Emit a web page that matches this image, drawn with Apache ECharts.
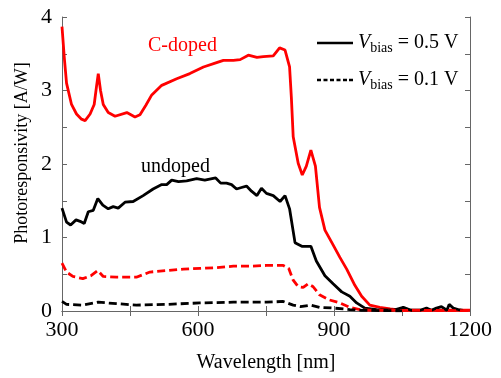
<!DOCTYPE html>
<html><head><meta charset="utf-8">
<script src="https://cdn.jsdelivr.net/npm/echarts@6/dist/echarts.min.js"></script>
<style>html,body{margin:0;padding:0;background:#fff}#c{width:501px;height:378px}</style>
</head><body><div id="c"></div>
<script>
const xTicks = [300, 600, 900, 1200];
const yTicks = [0, 1, 2, 3, 4];
const cDoped05 = [[300,3.87],[305,3.45],[310,3.10],[321,2.81],[332,2.68],[343,2.61],[351,2.59],[362,2.68],[371,2.81],[376,3.05],[380,3.23],[385,3.0],[391,2.81],[402,2.70],[417,2.65],[443,2.70],[461,2.64],[472,2.67],[485,2.80],[498,2.94],[520,3.07],[553,3.16],[582,3.23],[612,3.32],[641,3.38],[656,3.41],[678,3.41],[693,3.42],[711,3.48],[730,3.45],[744,3.46],[766,3.47],[780,3.58],[792,3.55],[802,3.32],[806,2.9],[810,2.37],[821,2.01],[830,1.85],[839,1.97],[849,2.19],[859,1.97],[868,1.41],[880,1.10],[898,0.90],[913,0.73],[928,0.57],[946,0.35],[961,0.20],[979,0.08],[1001,0.05],[1024,0.03],[1050,0.01],[1100,0.01],[1200,0.01]];
const undoped05 = [[300,1.40],[310,1.21],[319,1.17],[331,1.24],[340,1.22],[349,1.19],[358,1.35],[369,1.37],[379,1.53],[390,1.44],[402,1.39],[413,1.42],[424,1.40],[439,1.48],[457,1.49],[479,1.57],[501,1.66],[520,1.72],[531,1.72],[542,1.78],[557,1.76],[575,1.77],[597,1.80],[615,1.78],[639,1.81],[650,1.74],[663,1.74],[674,1.72],[685,1.66],[696,1.68],[707,1.70],[718,1.63],[730,1.57],[740,1.67],[751,1.60],[766,1.57],[781,1.49],[792,1.57],[802,1.39],[814,0.93],[829,0.88],[849,0.88],[861,0.68],[880,0.48],[898,0.37],[917,0.26],[935,0.20],[950,0.11],[968,0.04],[994,0.02],[1030,0.01],[1053,0.05],[1070,0.01],[1090,0.01],[1104,0.04],[1115,0.01],[1126,0.04],[1137,0.06],[1149,0.01],[1154,0.09],[1163,0.04],[1174,0.02],[1185,0.01]];
const cDoped01 = [[300,0.65],[310,0.53],[324,0.47],[346,0.44],[364,0.48],[379,0.55],[391,0.47],[420,0.46],[464,0.46],[494,0.53],[531,0.55],[568,0.57],[604,0.58],[641,0.59],[678,0.61],[715,0.61],[751,0.62],[788,0.62],[800,0.58],[810,0.42],[821,0.33],[832,0.32],[843,0.37],[854,0.33],[868,0.22],[890,0.15],[913,0.11],[935,0.05],[957,0.02],[980,0.01],[1200,0.005]];
const undoped01 = [[300,0.13],[310,0.09],[346,0.08],[380,0.12],[420,0.10],[464,0.08],[531,0.09],[604,0.11],[678,0.12],[751,0.12],[788,0.13],[810,0.08],[826,0.06],[848,0.08],[868,0.05],[898,0.04],[935,0.02],[960,0.01],[1000,0.005],[1050,0.003]];

const FONT = '"Liberation Serif","Times New Roman",serif';
const AX = '#666';
const chart = echarts.init(document.getElementById('c'), null, {renderer: 'canvas'});
function baseX(show) {
  return {type: 'value', min: 300, max: 1200, interval: 150,
    axisLine: {show: true, lineStyle: {color: AX, width: 1}},
    axisTick: {show: true, inside: true, length: 5, lineStyle: {color: AX}},
    splitLine: {show: false},
    axisLabel: {show: show, margin: 8, fontFamily: FONT, fontSize: 22, color: '#000',
      formatter: v => (xTicks.includes(v) ? String(v) : '')}};
}
function baseY(show) {
  return {type: 'value', min: 0, max: 4, interval: 0.5,
    axisLine: {show: true, lineStyle: {color: AX, width: 1}},
    axisTick: {show: true, inside: true, length: 5, lineStyle: {color: AX}},
    splitLine: {show: false},
    axisLabel: {show: show, margin: 10, fontFamily: FONT, fontSize: 22, color: '#000',
      formatter: v => (yTicks.includes(v) ? String(v) : '')}};
}
const xa = [Object.assign(baseX(true), {position: 'bottom', name: 'Wavelength [nm]', nameLocation: 'middle', nameGap: 42,
  nameTextStyle: {fontFamily: FONT, fontSize: 20, color: '#000'}}), Object.assign(baseX(false), {position: 'top'})];
const ya = [Object.assign(baseY(true), {position: 'left'}), Object.assign(baseY(false), {position: 'right'})];
const rich = {
  v: {fontFamily: FONT, fontSize: 20, fontStyle: 'italic', color: '#000'},
  s: {fontFamily: FONT, fontSize: 14, color: '#000', padding: [10, 0, 0, 0]},
  n: {fontFamily: FONT, fontSize: 20, color: '#000'}
};
const solidIcon = 'path://M0,0H36V2.6H0Z';
const dashIcon = 'path://M0,0H4V2.6H0Z M6.5,0H10.5V2.6H6.5Z M13,0H17V2.6H13Z M19.5,0H23.5V2.6H19.5Z M26,0H30V2.6H26Z M32,0H36V2.6H32Z';
function line(name, data, color, dashed) {
  return {type: 'line', name: name, data: data, showSymbol: false, symbol: 'none', smooth: false,
    animation: false, legendHoverLink: false,
    lineStyle: {color: color, width: 2.8, type: dashed ? [8, 4] : 'solid'}, itemStyle: {color: color}};
}
chart.setOption({
  animation: false,
  grid: {left: 62, right: 31, top: 17, bottom: 60, containLabel: false},
  xAxis: xa,
  yAxis: ya,
  legend: {show: true, left: 317, top: 33, padding: 0, orient: 'vertical', itemWidth: 36, itemHeight: 2.6, itemGap: 15,
    data: [
      {name: 'b05', icon: solidIcon, itemStyle: {color: '#000', borderWidth: 0}, lineStyle: {width: 0, opacity: 0}},
      {name: 'b01', icon: dashIcon, itemStyle: {color: '#000', borderWidth: 0}, lineStyle: {width: 0, opacity: 0}}
    ],
    selectedMode: false,
    formatter: n => n === 'b05' ? '{v|V}{s|bias}{n| = 0.5 V}' : '{v|V}{s|bias}{n| = 0.1 V}',
    textStyle: {rich: rich}},
  graphic: [
    {type: 'text', left: 148, top: 36, style: {text: 'C-doped', fill: '#ff0000', font: '20px ' + FONT}},
    {type: 'text', left: 141, top: 157, style: {text: 'undoped', fill: '#000', font: '20px ' + FONT}},
    {type: 'text', x: 22, y: 153, rotation: Math.PI / 2,
      style: {text: 'Photoresponsivity [A/W]', fill: '#000', font: '18px ' + FONT, align: 'center', verticalAlign: 'middle'}}
  ],
  series: [
    line('cDoped05', cDoped05, '#ff0000', false),
    line('undoped05', undoped05, '#000000', false),
    line('cDoped01', cDoped01, '#ff0000', true),
    line('undoped01', undoped01, '#000000', true),
    line('b05', [], '#000000', false),
    line('b01', [], '#000000', true)
  ]
});
</script></body></html>
